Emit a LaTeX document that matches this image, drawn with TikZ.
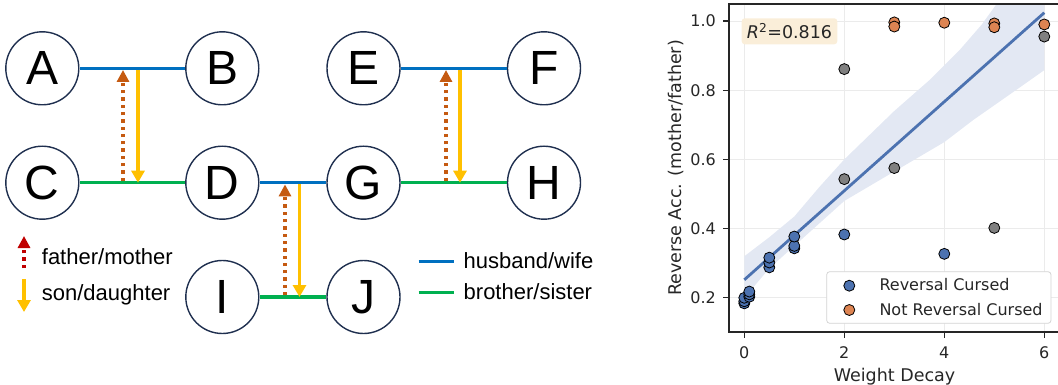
\documentclass[tikz,border=0pt]{standalone}
\usepackage{fontspec}
\setmainfont{Liberation Sans}
\newfontfamily\plotfont{DejaVu Sans}
\usetikzlibrary{arrows.meta}

\definecolor{spousecol}{HTML}{0070C0}
\definecolor{siblingcol}{HTML}{00B050}
\definecolor{childcol}{HTML}{FFC000}
\definecolor{parentcol}{HTML}{C55A11}
\definecolor{parentkey}{HTML}{C00000}
\definecolor{ringcol}{HTML}{1F2F4F}
\definecolor{cursed}{HTML}{4C72B0}
\definecolor{notcursed}{HTML}{DD8452}
\definecolor{bandcol}{HTML}{E3E8F3}
\definecolor{axcol}{HTML}{262626}
\definecolor{gridcol}{HTML}{EBEBEB}
\definecolor{rboxcol}{HTML}{FAEED9}
\definecolor{legline}{HTML}{D4D4D4}

\tikzset{
  person/.style={circle, draw=ringcol, line width=1.4pt, minimum size=73pt, inner sep=0pt, font=\fontsize{48}{48}\selectfont},
  spouse/.style={draw=spousecol, line width=3.3pt},
  kin/.style={draw=siblingcol, line width=3.3pt},
  parentarrow/.style={draw=parentcol, line width=3.3pt, dash pattern=on 3.3pt off 4pt, -{Triangle[width=12pt,length=12pt]}},
  childarrow/.style={draw=childcol, line width=3.3pt, -{Triangle[width=13pt,length=12pt]}},
  lbl/.style={font=\fontsize{22}{22}\selectfont, inner sep=0pt, anchor=base west},
  ticklbl/.style={font=\plotfont\fontsize{16}{16}\selectfont, text=axcol, inner sep=0pt},
  axlbl/.style={font=\plotfont\fontsize{17.5}{17.5}\selectfont, text=axcol, inner sep=0pt, anchor=base},
  dot/.style={draw=black, line width=0.8pt},
}

\begin{document}
\begin{tikzpicture}[x=1pt, y=-1pt]
	\useasboundingbox (0,0) rectangle (1058,385);
	% family graph
	\node[person] (A) at (42.3,68.3) {A};
	\node[person] (B) at (222.3,68.3) {B};
	\node[person] (E) at (363.5,68.3) {E};
	\node[person] (F) at (544,68.3) {F};
	\node[person] (C) at (42.3,182.7) {C};
	\node[person] (D) at (222.3,182.7) {D};
	\node[person] (G) at (363.5,182.7) {G};
	\node[person] (H) at (544,182.7) {H};
	\node[person] (I) at (222.3,297) {I};
	\node[person] (J) at (363.5,297) {J};
	\draw[spouse] (A) -- (B);
	\draw[spouse] (E) -- (F);
	\draw[spouse] (D) -- (G);
	\draw[kin] (C) -- (D);
	\draw[kin] (G) -- (H);
	\draw[kin] (I) -- (J);
	\foreach \top/\bot/\px/\cx/\n in {A/C/123/138/1, E/G/446/460/2, D/I/285/299.5/3} {
		\coordinate (up\n) at (\px,0 |- \top);
		\coordinate (lo\n) at (\px,0 |- \bot);
		\coordinate (cu\n) at (\cx,0 |- \top);
		\coordinate (cl\n) at (\cx,0 |- \bot);
		\draw[parentarrow, shorten <=1.7pt, shorten >=1.7pt] (lo\n) -- (up\n);
		\draw[childarrow, shorten <=1.7pt] (cu\n) -- (cl\n);
	}
	% keys
	\coordinate (k1) at (24,268);
	\coordinate (k2) at (24,236);
	\coordinate (k3) at (24,279);
	\coordinate (k4) at (24,312);
	\draw[parentarrow, draw=parentkey] (k1) -- (k2);
	\draw[childarrow] (k3) -- (k4);
	\node[lbl] (fm) at (41.7,264) {father/mother};
	\node[lbl] (sd) at (41.7,300.7) {son/daughter};
	\coordinate (k5) at (418.5,261.7);
	\coordinate (k6) at (454,261.7);
	\coordinate (k7) at (418.5,292.7);
	\coordinate (k8) at (454,292.7);
	\draw[spouse] (k5) -- (k6);
	\draw[kin] (k7) -- (k8);
	\node[lbl] (hw) at (463.5,268.3) {husband/wife};
	\node[lbl] (bs) at (463.5,299) {brother/sister};

	% scatter plot
	\begin{scope}[shift={(744.3,367)}, x=50pt, y=346pt]
		\foreach \x in {0,2,4,6}
			\draw[gridcol, line width=0.8pt] (\x,0.102) -- (\x,1.049);
		\foreach \v in {0.2,0.4,0.6,0.8,1.0}
			\draw[gridcol, line width=0.8pt] (-0.306,\v) -- (6.274,\v);
		\begin{scope}
			\clip (-0.306,0.102) rectangle (6.274,1.049);
			\fill[bandcol] (0,0.32) -- (0.5,0.375) -- (1,0.435) -- (1.5,0.52) -- (2,0.6) -- (3,0.74) -- (3.71,0.83) -- (4.3,0.915) -- (4.75,0.99) -- (5.1,1.06) -- (6,1.2)
				-- (6,0.858) -- (5.5,0.807) -- (4.58,0.714) -- (4,0.65) -- (3,0.565) -- (2,0.48) -- (1,0.35) -- (0.5,0.285) -- (0,0.2) -- cycle;
			\draw[cursed, line width=2.8pt] (0,0.252) -- (6,1.024);
		\end{scope}
		\foreach \x/\v in {0/0.184, 0/0.19, 0/0.2, 0.1/0.203, 0.1/0.21, 0.1/0.218, 0.5/0.288, 0.5/0.302, 0.5/0.316, 1/0.343, 1/0.35, 1/0.377, 2/0.383, 4/0.327}
			\filldraw[dot, fill=cursed] (\x,\v) circle[radius=5.5pt];
		\foreach \x/\v in {2/0.861, 2/0.543, 3/0.575, 5/0.402, 6/0.955}
			\filldraw[dot, fill=gray] (\x,\v) circle[radius=5.5pt];
		\foreach \x/\v in {3/0.996, 3/0.984, 4/0.995, 5/0.993, 5/0.982, 6/0.99}
			\filldraw[dot, fill=notcursed] (\x,\v) circle[radius=5.5pt];
		\draw[axcol, line width=1.6pt] (6.274,1.049) -- (-0.306,1.049) -- (-0.306,0.102) -- (6.274,0.102);
		\foreach \x in {0,2,4,6} {
			\draw[axcol, line width=1.2pt] (\x,0.102) -- ++(0pt,-6pt);
			\node[ticklbl, anchor=north, yshift=-15pt] (xt\x) at (\x,0.102) {\x};
		}
		\foreach \v/\n in {0.2/2, 0.4/4, 0.6/6, 0.8/8, 1.0/10} {
			\draw[axcol, line width=1.2pt] (-0.306,\v) -- ++(-6pt,0pt);
			\node[ticklbl, anchor=east, xshift=-13pt] (yt\n) at (-0.306,\v) {\v};
		}
	\end{scope}
	\node[axlbl] (xl) at (894.5,381.7) {Weight Decay};
	\node[axlbl, rotate=90] (yl) at (681,168) {Reverse Acc. (mother/father)};
	\node[fill=rboxcol, rounded corners=3pt, minimum width=95.6pt, minimum height=26pt, inner sep=0pt, font=\plotfont\fontsize{17.5}{17.5}\selectfont, text=axcol] (rsq) at (789.5,31.3) {{\itshape R}\textsuperscript{2}=0.816};
	% legend
	\draw[legline, fill=white, rounded corners=3pt, line width=0.8pt] (826.7,271.7) rectangle (1051,323.3);
	\filldraw[dot, fill=cursed] (849.3,285.7) circle[radius=5.5pt];
	\filldraw[dot, fill=notcursed] (849.3,310) circle[radius=5.5pt];
	\node[ticklbl, anchor=base west] (lc) at (879.3,290.7) {Reversal Cursed};
	\node[ticklbl, anchor=base west] (ln) at (879.3,315) {Not Reversal Cursed};
\end{tikzpicture}
\end{document}
